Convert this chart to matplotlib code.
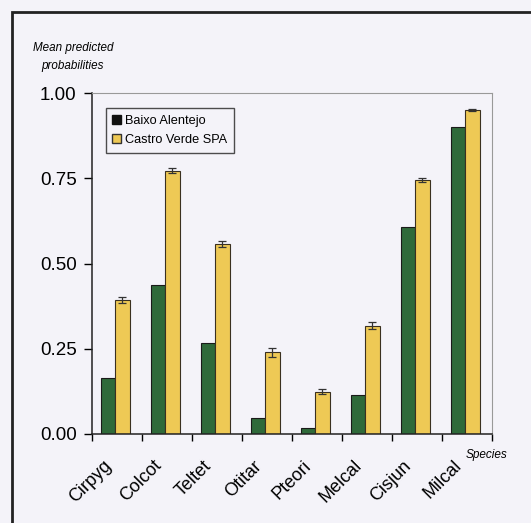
import numpy as np
import matplotlib
matplotlib.use("Agg")
import matplotlib.pyplot as plt
from matplotlib.patches import Rectangle, Patch
from matplotlib.transforms import ScaledTranslation

species = ["Cirpyg", "Colcot", "Teltet", "Otitar", "Pteori", "Melcal", "Cisjun", "Milcal"]
baixo = [0.164, 0.437, 0.267, 0.048, 0.017, 0.114, 0.608, 0.901]
castro = [0.393, 0.772, 0.557, 0.240, 0.124, 0.318, 0.745, 0.950]
castro_err = [0.008, 0.007, 0.009, 0.013, 0.008, 0.011, 0.007, 0.004]

bg = "#f4f3f9"
green = "#2f6a3a"
yellow = "#eec955"

plt.rcParams["font.family"] = ["Liberation Sans", "DejaVu Sans"]

fig = plt.figure(figsize=(5.31, 5.23), dpi=100, facecolor=bg)
ax = fig.add_axes([92 / 531, 89 / 523, 400 / 531, 341 / 523])
ax.set_facecolor(bg)

x = np.arange(len(species))
w = 0.29
ax.bar(x + 0.315, baixo, w, color=green, edgecolor="#1a1a1a", linewidth=0.8)
ax.bar(x + 0.605, castro, w, color=yellow, edgecolor="#3a3020", linewidth=0.8,
       yerr=castro_err, error_kw=dict(ecolor="#333333", elinewidth=0.9, capsize=3, capthick=0.9))

ax.set_xlim(0, 8)
ax.set_ylim(0, 1)
ax.set_yticks([0, 0.25, 0.5, 0.75, 1.0])
ax.set_yticklabels(["0.00", "0.25", "0.50", "0.75", "1.00"], fontsize=13.5)
ax.set_xticks(np.arange(0, 9))
ax.set_xticklabels([])
ax.set_xticks(x + 0.5, minor=True)
ax.set_xticklabels(species, minor=True, rotation=45, ha="right", va="center",
                   rotation_mode="anchor", fontsize=13)
ax.tick_params(axis="x", which="minor", length=0, pad=21)
ax.tick_params(axis="x", which="major", length=5, width=1, direction="out")
ax.tick_params(axis="y", length=6, width=1, direction="out", pad=5)
shift = ScaledTranslation(-8 / 100, 0, fig.dpi_scale_trans)
for lab in ax.get_xticklabels(minor=True):
    lab.set_transform(lab.get_transform() + shift)

for s in ["left", "bottom"]:
    ax.spines[s].set_color("#222222")
    ax.spines[s].set_linewidth(1.1)
for s in ["top", "right"]:
    ax.spines[s].set_color("#999999")
    ax.spines[s].set_linewidth(0.8)

leg = ax.legend(handles=[Patch(facecolor="#111111", edgecolor="#111111", label="Baixo Alentejo"),
                         Patch(facecolor=yellow, edgecolor="#333333", label="Castro Verde SPA")],
                loc="upper left", bbox_to_anchor=(0.035, 0.955), fontsize=9.2,
                frameon=True, fancybox=False, handlelength=0.7, handleheight=0.7,
                handletextpad=0.3, borderpad=0.5, labelspacing=0.6, borderaxespad=0)
leg.get_frame().set_edgecolor("#222222")
leg.get_frame().set_linewidth(1.0)
leg.get_frame().set_facecolor(bg)

fig.text(73 / 531, 1 - 57 / 523, "Mean predicted\nprobabilities", ha="center", va="center",
         fontsize=8.4, style="italic", linespacing=1.7)
fig.text(487 / 531, 1 - 455 / 523, "Species", ha="center", va="center",
         fontsize=8.5, style="italic")

# outer frame of the scanned figure
fig.patches.append(Rectangle((12 / 531, -0.1), 1.2, 1.1 - 12 / 523, transform=fig.transFigure,
                             fill=False, edgecolor="#222222", linewidth=2))

fig.savefig("out.png", dpi=100, facecolor=bg)
